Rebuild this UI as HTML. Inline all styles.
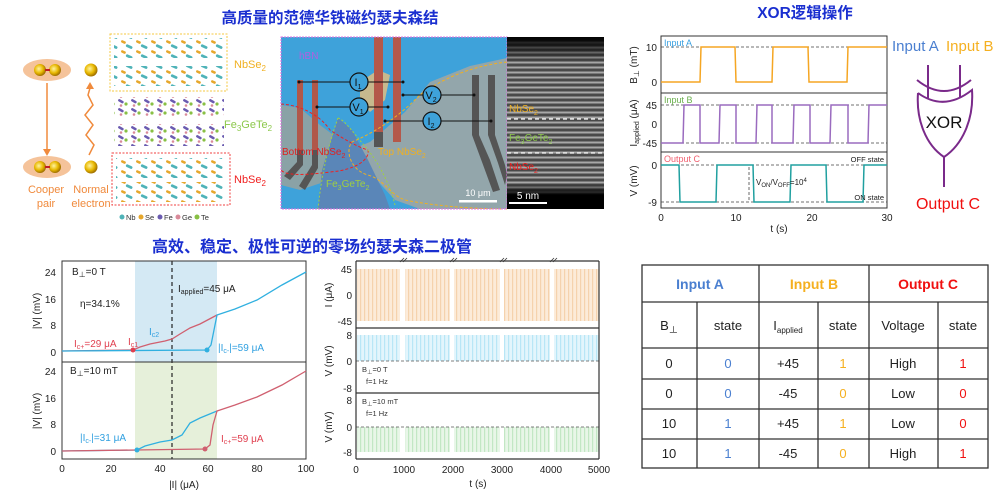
<!DOCTYPE html>
<html><head><meta charset="utf-8"><style>
html,body{margin:0;padding:0;background:#fff}
svg{display:block}
text{font-family:"Liberation Sans","Noto Sans CJK SC",sans-serif}
</style></head><body>
<svg width="1000" height="495" viewBox="0 0 1000 495" xmlns="http://www.w3.org/2000/svg">
<defs>
<pattern id="nbse" width="15" height="10" patternUnits="userSpaceOnUse">
<rect x="1" y="1" width="5" height="2.5" rx="1.2" fill="#e6a72c" transform="rotate(25 4 2)"/>
<rect x="6" y="5.5" width="7" height="2.8" rx="1.4" fill="#4fb3b8" transform="rotate(25 10 6)"/>
</pattern>
<pattern id="fgt" width="13" height="9" patternUnits="userSpaceOnUse">
<rect x="1" y="1" width="6" height="2.5" rx="1.2" fill="#6a5bb0" transform="rotate(30 4 2)"/>
<circle cx="9" cy="5" r="1.6" fill="#88c044"/>
<circle cx="4" cy="6.5" r="1.3" fill="#d98a9a"/>
</pattern>
<pattern id="stem" width="10" height="5" patternUnits="userSpaceOnUse">
<rect width="10" height="5" fill="#4a4a4a"/><rect y="1.5" width="10" height="2" fill="#a8a8a8"/>
</pattern>
<pattern id="po" width="4" height="10" patternUnits="userSpaceOnUse"><rect width="4" height="10" fill="#fcebd9"/><rect width="1.2" height="10" fill="#f5d2ad"/></pattern>
<pattern id="pb" width="4" height="10" patternUnits="userSpaceOnUse"><rect width="4" height="10" fill="#e3f5fc"/><rect width="1.2" height="10" fill="#b8e6f6"/></pattern>
<pattern id="pg" width="4" height="10" patternUnits="userSpaceOnUse"><rect width="4" height="10" fill="#e8f6e8"/><rect width="1.2" height="10" fill="#c2e7c4"/></pattern>
<radialGradient id="ball" cx="0.4" cy="0.4" r="0.6"><stop offset="0" stop-color="#fff3a0"/><stop offset="0.6" stop-color="#e8b800"/><stop offset="1" stop-color="#a07000"/></radialGradient>
<linearGradient id="stemg" x1="0" y1="0" x2="0" y2="1"><stop offset="0" stop-color="#000" stop-opacity="1"/><stop offset="0.15" stop-color="#000" stop-opacity="0"/><stop offset="0.85" stop-color="#000" stop-opacity="0"/><stop offset="0.92" stop-color="#000" stop-opacity="1"/></linearGradient>
</defs>

<text x="330" y="23" font-size="15.5" font-weight="bold" fill="#1a2fd0" text-anchor="middle">高质量的范德华铁磁约瑟夫森结</text>
<text x="312" y="252" font-size="16" font-weight="bold" fill="#1a2fd0" text-anchor="middle">高效、稳定、极性可逆的零场约瑟夫森二极管</text>
<text x="805" y="18" font-size="15.5" font-weight="bold" fill="#1a2fd0" text-anchor="middle">XOR逻辑操作</text>

<ellipse cx="47" cy="70" rx="24" ry="11" fill="#f5c39a"/>
<circle cx="40" cy="70" r="6" fill="url(#ball)"/><circle cx="55" cy="70" r="6" fill="url(#ball)"/>
<line x1="45" y1="70" x2="50" y2="70" stroke="#c02020" stroke-width="2"/>
<circle cx="91" cy="70" r="6.5" fill="url(#ball)"/>
<ellipse cx="47" cy="167" rx="24" ry="11" fill="#f5c39a"/>
<circle cx="40" cy="167" r="6" fill="url(#ball)"/><circle cx="55" cy="167" r="6" fill="url(#ball)"/>
<line x1="45" y1="167" x2="50" y2="167" stroke="#c02020" stroke-width="2"/>
<circle cx="91" cy="167" r="6.5" fill="url(#ball)"/>
<line x1="47" y1="83" x2="47" y2="150" stroke="#f08a3c" stroke-width="1.5"/>
<polygon points="43,149 51,149 47,156" fill="#f08a3c"/>
<polyline points="89,155 94,145 86,135 93,125 85,115 93,105 88,95 90,88" fill="none" stroke="#f08a3c" stroke-width="1.5"/>
<polygon points="86,89 94,89 90,82" fill="#f08a3c"/>
<text x="46" y="193" font-size="11" fill="#f08a3c" text-anchor="middle">Cooper</text>
<text x="46" y="207" font-size="11" fill="#f08a3c" text-anchor="middle">pair</text>
<text x="91" y="193" font-size="11" fill="#f08a3c" text-anchor="middle">Normal</text>
<text x="91" y="207" font-size="11" fill="#f08a3c" text-anchor="middle">electron</text>

<rect x="114" y="38" width="110" height="20" fill="url(#nbse)"/>
<rect x="114" y="66" width="110" height="20" fill="url(#nbse)"/>
<rect x="110" y="34" width="117" height="57" fill="none" stroke="#f5c842" stroke-width="1" stroke-dasharray="2,1.5"/>
<rect x="114" y="97" width="110" height="20" fill="url(#fgt)"/>
<rect x="114" y="124" width="110" height="22" fill="url(#fgt)"/>
<rect x="116" y="158" width="110" height="20" fill="url(#nbse)"/>
<rect x="116" y="182" width="110" height="20" fill="url(#nbse)"/>
<rect x="112" y="153" width="118" height="52" fill="none" stroke="#f04040" stroke-width="1" stroke-dasharray="2,1.5"/>
<text x="234" y="68" font-size="11" fill="#f0b020">NbSe<tspan font-size="8" dy="3">2</tspan></text>
<text x="224" y="128" font-size="11" fill="#8cc84b">Fe<tspan font-size="8" dy="3">3</tspan><tspan dy="-3">GeTe</tspan><tspan font-size="8" dy="3">2</tspan></text>
<text x="234" y="183" font-size="11" fill="#f02020">NbSe<tspan font-size="8" dy="3">2</tspan></text>
<g font-size="7.5" fill="#333">
<circle cx="122" cy="217" r="2.5" fill="#4fb3b8"/><text x="126" y="220">Nb</text>
<circle cx="141" cy="217" r="2.5" fill="#e6a72c"/><text x="145" y="220">Se</text>
<circle cx="160" cy="217" r="2.5" fill="#6a5bb0"/><text x="164" y="220">Fe</text>
<circle cx="178" cy="217" r="2.5" fill="#d98a9a"/><text x="182" y="220">Ge</text>
<circle cx="197" cy="217" r="2.5" fill="#88c044"/><text x="201" y="220">Te</text>
</g>

<rect x="281" y="37" width="226" height="172" fill="#3ea2da"/>
<polygon points="507,58 470,66 430,82 405,112 370,142 345,152 372,175 395,200 420,209 507,209" fill="#93a6ab"/>
<polygon points="281,105 300,108 320,125 340,140 350,160 330,180 300,190 281,185" fill="#8aa2a6"/>
<polygon points="338,118 352,130 368,160 385,195 390,209 318,209 322,170" fill="#5a86b8"/>
<polygon points="360,82 378,70 390,75 385,100 370,112 360,100" fill="#c7b98e"/>
<rect x="297" y="80" width="6" height="70" fill="#b0584a"/><rect x="312" y="80" width="6" height="70" fill="#b0584a"/>
<polygon points="297,150 303,150 303,165 290,180 284,176 297,162" fill="#555"/>
<polygon points="312,150 318,150 318,168 305,190 299,186 312,165" fill="#555"/>
<rect x="374" y="37" width="9" height="95" fill="#b4584a"/><rect x="393" y="37" width="8" height="105" fill="#b4584a"/>
<rect x="374" y="132" width="9" height="15" fill="#555"/>
<rect x="472" y="75" width="7" height="60" fill="#555"/><rect x="488" y="75" width="7" height="60" fill="#555"/>
<polygon points="472,135 479,135 490,160 500,190 493,192 482,162" fill="#555"/>
<polygon points="488,135 495,135 505,165 507,175 505,185 498,163" fill="#555"/>
<path d="M281,104 C300,105 320,115 330,130 C345,140 360,148 368,150 C370,160 355,170 330,172 C300,176 285,175 281,170" fill="none" stroke="#f02020" stroke-width="1" stroke-dasharray="3,2"/>
<path d="M507,62 C470,66 440,80 420,95 C400,115 380,130 352,142 C345,150 350,170 368,175 C385,180 390,195 405,200 C440,207 480,209 507,209" fill="none" stroke="#f0b020" stroke-width="1" stroke-dasharray="3,2"/>
<path d="M338,118 C345,120 355,135 368,150 C380,165 390,185 395,205" fill="none" stroke="#a0d040" stroke-width="1" stroke-dasharray="2,2"/>
<path d="M338,118 C330,140 322,170 318,209" fill="none" stroke="#a0d040" stroke-width="1" stroke-dasharray="2,2"/>
<rect x="281" y="37" width="226" height="172" fill="none" stroke="#e070e0" stroke-width="1" stroke-dasharray="2,1"/>
<g stroke="#111" stroke-width="1.1" fill="none">
<line x1="299" y1="82" x2="403" y2="82"/><line x1="317" y1="107" x2="388" y2="107"/>
<line x1="403" y1="95" x2="474" y2="95"/><line x1="385" y1="121" x2="491" y2="121"/>
</g>
<g fill="#3ea2da" stroke="#111" stroke-width="1.2">
<circle cx="359" cy="82" r="9"/><circle cx="359" cy="107" r="9"/><circle cx="432" cy="95" r="9"/><circle cx="432" cy="121" r="9"/>
</g>
<g fill="#111"><circle cx="299" cy="82" r="1.5"/><circle cx="403" cy="82" r="1.5"/><circle cx="317" cy="107" r="1.5"/><circle cx="388" cy="107" r="1.5"/><circle cx="403" cy="95" r="1.5"/><circle cx="474" cy="95" r="1.5"/><circle cx="385" cy="121" r="1.5"/><circle cx="491" cy="121" r="1.5"/></g>
<g font-size="11" fill="#111" text-anchor="middle">
<text x="358" y="86">I<tspan font-size="7" dy="3">1</tspan></text><text x="358" y="111">V<tspan font-size="7" dy="3">1</tspan></text>
<text x="431" y="99">V<tspan font-size="7" dy="3">2</tspan></text><text x="431" y="125">I<tspan font-size="7" dy="3">2</tspan></text>
</g>
<text x="299" y="59" font-size="10" fill="#b060e0">hBN</text>
<text x="282" y="155" font-size="10" fill="#e02020">Bottom NbSe<tspan font-size="7" dy="3">2</tspan></text>
<text x="378" y="155" font-size="10" fill="#f0b020">Top NbSe<tspan font-size="7" dy="3">2</tspan></text>
<text x="326" y="187" font-size="10" fill="#a0d040">Fe<tspan font-size="7" dy="3">3</tspan><tspan dy="-3">GeTe</tspan><tspan font-size="7" dy="3">2</tspan></text>
<text x="478" y="196" font-size="9" fill="#fff" text-anchor="middle">10 μm</text>
<rect x="459" y="200" width="38" height="2.5" fill="#fff"/>

<rect x="507" y="37" width="97" height="172" fill="url(#stem)"/>
<rect x="507" y="37" width="97" height="172" fill="url(#stemg)"/>
<line x1="507" y1="119" x2="604" y2="119" stroke="#fff" stroke-width="1.2" stroke-dasharray="4,3"/>
<line x1="507" y1="153" x2="604" y2="153" stroke="#fff" stroke-width="1.2" stroke-dasharray="4,3"/>
<text x="509" y="112" font-size="10" fill="#f0b020">NbSe<tspan font-size="7" dy="3">2</tspan></text>
<text x="509" y="141" font-size="10" fill="#8cc84b">Fe<tspan font-size="7" dy="3">3</tspan><tspan dy="-3">GeTe</tspan><tspan font-size="7" dy="3">2</tspan></text>
<text x="509" y="170" font-size="10" fill="#f02020">NbSe<tspan font-size="7" dy="3">2</tspan></text>
<text x="528" y="199" font-size="10" fill="#fff" text-anchor="middle">5 nm</text>
<rect x="509" y="202" width="38" height="2" fill="#fff"/>

<rect x="661" y="36" width="226" height="172" fill="none" stroke="#333" stroke-width="1"/>
<line x1="661" y1="93" x2="887" y2="93" stroke="#333"/><line x1="661" y1="152" x2="887" y2="152" stroke="#333"/>
<g stroke="#444" stroke-dasharray="3,2" stroke-width="0.8">
<line x1="661" y1="47" x2="887" y2="47"/><line x1="661" y1="105" x2="887" y2="105"/><line x1="661" y1="143" x2="887" y2="143"/>
<line x1="661" y1="165" x2="887" y2="165"/><line x1="661" y1="202" x2="887" y2="202"/>
<line x1="749" y1="167" x2="749" y2="200"/>
</g>
<polyline fill="none" stroke="#f5a623" stroke-width="1.5" points="661,82 700,82 701,47 735,47 736,82 772,82 773,47 808,47 809,82 847,82 848,47 887,47"/>
<polyline fill="none" stroke="#9a6bbf" stroke-width="1.5" points="661,143 683,143 684,105 700,105 700,143 719,143 720,105 736,105 736,143 756,143 757,105 772,105 772,143 793,143 794,105 810,105 810,143 830,143 831,105 848,105 848,143 868,143 869,105 887,105"/>
<polyline fill="none" stroke="#20a0a0" stroke-width="1.5" points="661,165 679,165 680,202 716,202 717,165 753,165 754,202 790,202 791,165 826,165 827,202 863,202 864,165 887,165"/>
<g font-size="10" fill="#222" text-anchor="end">
<text x="657" y="51">10</text><text x="657" y="86">0</text>
<text x="657" y="109">45</text><text x="657" y="128">0</text><text x="657" y="147">-45</text>
<text x="657" y="169">0</text><text x="657" y="206">-9</text>
</g>
<g font-size="10" fill="#222" text-anchor="middle">
<text x="661" y="221">0</text><text x="736" y="221">10</text><text x="812" y="221">20</text><text x="887" y="221">30</text>
<text x="779" y="232">t (s)</text>
</g>
<text x="664" y="46" font-size="9" fill="#3aa0e0">Input A</text>
<text x="664" y="103" font-size="9" fill="#6ab04c">Input B</text>
<text x="664" y="162" font-size="9" fill="#f06070">Output C</text>
<text x="884" y="162" font-size="7.5" fill="#222" text-anchor="end">OFF state</text>
<text x="884" y="200" font-size="7.5" fill="#222" text-anchor="end">ON state</text>
<text x="756" y="185" font-size="8" fill="#222">V<tspan font-size="6" dy="2">ON</tspan><tspan dy="-2">/V</tspan><tspan font-size="6" dy="2">OFF</tspan><tspan dy="-2">=10</tspan><tspan font-size="6" dy="-3">4</tspan></text>
<g font-size="10" fill="#222" text-anchor="middle">
<text transform="translate(637,65) rotate(-90)">B<tspan font-size="7" dy="2">⊥</tspan><tspan dy="-2"> (mT)</tspan></text>
<text transform="translate(637,123) rotate(-90)">I<tspan font-size="7" dy="2">applied</tspan><tspan dy="-2"> (μA)</tspan></text>
<text transform="translate(637,181) rotate(-90)">V (mV)</text>
</g>

<text x="892" y="51" font-size="15" fill="#4a7fd0">Input A</text>
<text x="946" y="51" font-size="15" fill="#f5b020">Input B</text>
<g fill="none" stroke="#7a2a8a" stroke-width="2">
<line x1="928" y1="65" x2="928" y2="98"/><line x1="960" y1="65" x2="960" y2="98"/>
<path d="M917,80 Q944,102 971,80"/>
<path d="M918,93 Q944,112 972,90 C974,120 962,145 944,157 C926,145 916,120 918,93"/>
<line x1="944" y1="157" x2="944" y2="187"/>
</g>
<text x="944" y="128" font-size="17" fill="#111" text-anchor="middle">XOR</text>
<text x="948" y="209" font-size="16" fill="#f01010" text-anchor="middle">Output C</text>

<rect x="135" y="261" width="82" height="101" fill="#d4e9f4"/>
<rect x="135" y="362" width="82" height="97" fill="#e6f0da"/>
<line x1="172" y1="261" x2="172" y2="459" stroke="#222" stroke-width="1.2" stroke-dasharray="4,3"/>
<rect x="62" y="261" width="244" height="198" fill="none" stroke="#333"/>
<line x1="62" y1="362" x2="306" y2="362" stroke="#333"/>
<polyline fill="none" stroke="#d06070" stroke-width="1.3" points="62,351 133,350 140,347 150,344 165,341 172,339 180,334 190,328 200,324 217,315"/>
<polyline fill="none" stroke="#30b0e0" stroke-width="1.3" points="62,351 207,350 211,345 214,330 217,315 235,309 257,300 282,285 306,272"/>
<circle cx="133" cy="350" r="2.5" fill="#e04050"/><circle cx="207" cy="350" r="2.5" fill="#30b0e0"/>
<polyline fill="none" stroke="#30b0e0" stroke-width="1.3" points="62,451 137,450 145,446 160,442 172,440 182,435 190,423 200,418 217,411"/>
<polyline fill="none" stroke="#d06070" stroke-width="1.3" points="62,451 205,449 210,445 213,425 217,411 235,405 257,397 282,385 306,371"/>
<circle cx="137" cy="450" r="2.5" fill="#30b0e0"/><circle cx="205" cy="449" r="2.5" fill="#d06070"/>
<g font-size="10" fill="#222" text-anchor="end">
<text x="56" y="276">24</text><text x="56" y="303">16</text><text x="56" y="329">8</text><text x="56" y="356">0</text>
<text x="56" y="375">24</text><text x="56" y="402">16</text><text x="56" y="428">8</text><text x="56" y="455">0</text>
</g>
<g font-size="10" fill="#222" text-anchor="middle">
<text x="62" y="472">0</text><text x="111" y="472">20</text><text x="160" y="472">40</text><text x="208" y="472">60</text><text x="257" y="472">80</text><text x="306" y="472">100</text>
<text x="184" y="488">|I| (μA)</text>
<text transform="translate(40,311) rotate(-90)">|V| (mV)</text>
<text transform="translate(40,411) rotate(-90)">|V| (mV)</text>
</g>
<text x="72" y="275" font-size="10" fill="#222">B<tspan font-size="7" dy="2">⊥</tspan><tspan dy="-2">=0 T</tspan></text>
<text x="80" y="307" font-size="10" fill="#222">η=34.1%</text>
<text x="178" y="292" font-size="10" fill="#222">I<tspan font-size="7" dy="2">applied</tspan><tspan dy="-2">=45 μA</tspan></text>
<text x="74" y="347" font-size="10" fill="#e04050">I<tspan font-size="7" dy="2">c+</tspan><tspan dy="-2">=29 μA</tspan></text>
<text x="128" y="345" font-size="10" fill="#e04050">I<tspan font-size="7" dy="2">c1</tspan></text>
<text x="149" y="335" font-size="10" fill="#30a0e0">I<tspan font-size="7" dy="2">c2</tspan></text>
<text x="218" y="351" font-size="10" fill="#30a0e0">|I<tspan font-size="7" dy="2">c-</tspan><tspan dy="-2">|=59 μA</tspan></text>
<text x="70" y="374" font-size="10" fill="#222">B<tspan font-size="7" dy="2">⊥</tspan><tspan dy="-2">=10 mT</tspan></text>
<text x="80" y="441" font-size="10" fill="#30a0e0">|I<tspan font-size="7" dy="2">c-</tspan><tspan dy="-2">|=31 μA</tspan></text>
<text x="221" y="442" font-size="10" fill="#e04050">I<tspan font-size="7" dy="2">c+</tspan><tspan dy="-2">=59 μA</tspan></text>

<g>
<rect x="357" y="269" width="43" height="52" fill="url(#po)"/><rect x="405" y="269" width="45" height="52" fill="url(#po)"/><rect x="454" y="269" width="46" height="52" fill="url(#po)"/><rect x="504" y="269" width="46" height="52" fill="url(#po)"/><rect x="554" y="269" width="45" height="52" fill="url(#po)"/>
<rect x="357" y="335" width="43" height="26" fill="url(#pb)"/><rect x="405" y="335" width="45" height="26" fill="url(#pb)"/><rect x="454" y="335" width="46" height="26" fill="url(#pb)"/><rect x="504" y="335" width="46" height="26" fill="url(#pb)"/><rect x="554" y="335" width="45" height="26" fill="url(#pb)"/>
<rect x="357" y="427" width="43" height="25" fill="url(#pg)"/><rect x="405" y="427" width="45" height="25" fill="url(#pg)"/><rect x="454" y="427" width="46" height="25" fill="url(#pg)"/><rect x="504" y="427" width="46" height="25" fill="url(#pg)"/><rect x="554" y="427" width="45" height="25" fill="url(#pg)"/>
</g>
<g stroke="#555" stroke-dasharray="3,2" stroke-width="0.8"><line x1="356" y1="361" x2="599" y2="361"/><line x1="356" y1="427" x2="599" y2="427"/></g>
<g stroke="#333" stroke-width="1.2" fill="none">
<line x1="356" y1="261" x2="356" y2="459"/><line x1="599" y1="261" x2="599" y2="459"/>
<line x1="356" y1="261" x2="599" y2="261"/><line x1="356" y1="328" x2="599" y2="328"/><line x1="356" y1="393" x2="599" y2="393"/><line x1="356" y1="459" x2="599" y2="459"/>
</g>
<g stroke="#333" stroke-width="0.8">
<line x1="400" y1="262" x2="404" y2="258"/><line x1="403" y1="262" x2="407" y2="258"/>
<line x1="450" y1="262" x2="454" y2="258"/><line x1="453" y1="262" x2="457" y2="258"/>
<line x1="500" y1="262" x2="504" y2="258"/><line x1="503" y1="262" x2="507" y2="258"/>
<line x1="550" y1="262" x2="554" y2="258"/><line x1="553" y1="262" x2="557" y2="258"/>
</g>
<g font-size="10" fill="#222" text-anchor="end">
<text x="352" y="273">45</text><text x="352" y="299">0</text><text x="352" y="325">-45</text>
<text x="352" y="339">8</text><text x="352" y="365">0</text><text x="352" y="392">-8</text>
<text x="352" y="404">8</text><text x="352" y="431">0</text><text x="352" y="456">-8</text>
</g>
<g font-size="10" fill="#222" text-anchor="middle">
<text x="356" y="473">0</text><text x="404" y="473">1000</text><text x="453" y="473">2000</text><text x="502" y="473">3000</text><text x="551" y="473">4000</text><text x="599" y="473">5000</text>
<text x="478" y="487">t (s)</text>
<text transform="translate(332,295) rotate(-90)">I (μA)</text>
<text transform="translate(332,361) rotate(-90)">V (mV)</text>
<text transform="translate(332,427) rotate(-90)">V (mV)</text>
</g>
<text x="362" y="372" font-size="7.5" fill="#333">B<tspan font-size="5.5" dy="2">⊥</tspan><tspan dy="-2">=0 T</tspan></text>
<text x="366" y="384" font-size="7.5" fill="#333">f=1 Hz</text>
<text x="362" y="404" font-size="7.5" fill="#333">B<tspan font-size="5.5" dy="2">⊥</tspan><tspan dy="-2">=10 mT</tspan></text>
<text x="366" y="416" font-size="7.5" fill="#333">f=1 Hz</text>

<g stroke="#333" stroke-width="1.3" fill="none">
<rect x="642" y="265" width="346" height="203"/>
<line x1="642" y1="302" x2="988" y2="302"/><line x1="642" y1="348" x2="988" y2="348"/><line x1="642" y1="379" x2="988" y2="379"/><line x1="642" y1="409" x2="988" y2="409"/><line x1="642" y1="439" x2="988" y2="439"/>
<line x1="759" y1="265" x2="759" y2="468"/><line x1="869" y1="265" x2="869" y2="468"/>
<line x1="697" y1="302" x2="697" y2="468"/><line x1="818" y1="302" x2="818" y2="468"/><line x1="938" y1="302" x2="938" y2="468"/>
</g>
<g font-size="14" font-weight="bold" text-anchor="middle">
<text x="700" y="289" fill="#4a7fd0">Input A</text><text x="814" y="289" fill="#f5b020">Input B</text><text x="928" y="289" fill="#f01010">Output C</text>
</g>
<g font-size="13" fill="#222" text-anchor="middle">
<text x="669" y="330">B<tspan font-size="9" dy="3">⊥</tspan></text><text x="728" y="330">state</text>
<text x="788" y="330">I<tspan font-size="8" dy="3">applied</tspan></text><text x="843" y="330">state</text>
<text x="903" y="330">Voltage</text><text x="963" y="330">state</text>
<text x="669" y="368">0</text><text x="669" y="398">0</text><text x="669" y="428">10</text><text x="669" y="458">10</text>
<text x="788" y="368">+45</text><text x="788" y="398">-45</text><text x="788" y="428">+45</text><text x="788" y="458">-45</text>
<text x="903" y="368">High</text><text x="903" y="398">Low</text><text x="903" y="428">Low</text><text x="903" y="458">High</text>
</g>
<g font-size="13" text-anchor="middle">
<text x="728" y="368" fill="#4a7fd0">0</text><text x="728" y="398" fill="#4a7fd0">0</text><text x="728" y="428" fill="#4a7fd0">1</text><text x="728" y="458" fill="#4a7fd0">1</text>
<text x="843" y="368" fill="#f5b020">1</text><text x="843" y="398" fill="#f5b020">0</text><text x="843" y="428" fill="#f5b020">1</text><text x="843" y="458" fill="#f5b020">0</text>
<text x="963" y="368" fill="#f01010">1</text><text x="963" y="398" fill="#f01010">0</text><text x="963" y="428" fill="#f01010">0</text><text x="963" y="458" fill="#f01010">1</text>
</g>
</svg>
</body></html>
